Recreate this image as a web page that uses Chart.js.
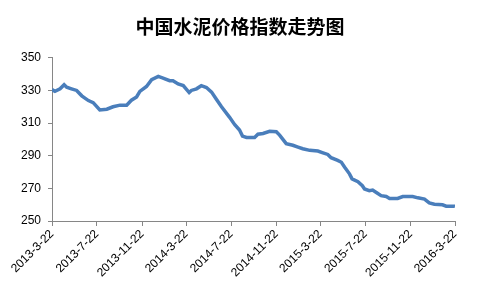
<!DOCTYPE html>
<html>
<head>
<meta charset="utf-8">
<script src="https://cdn.jsdelivr.net/npm/chart.js@4"></script>
<style>
html,body{margin:0;padding:0;background:#fff;}
#wrap{width:480px;height:288px;}
</style>
</head>
<body>
<div id="wrap"><canvas id="c"></canvas></div>
<script>
const title = '中国水泥价格指数走势图';
const startDate = '2013-03-22';
const tickDates = ['2013-3-22','2013-7-22','2013-11-22','2014-3-22','2014-7-22','2014-11-22','2015-3-22','2015-7-22','2015-11-22','2016-3-22'];
const dates = ['2013-03-22','2013-03-30','2013-04-13','2013-04-24','2013-05-01','2013-05-14','2013-05-28','2013-06-11','2013-06-29','2013-07-12',
 '2013-07-30','2013-08-18','2013-09-04','2013-09-23','2013-10-11','2013-10-24','2013-11-07','2013-11-16','2013-12-04','2013-12-18',
 '2014-01-05','2014-01-18','2014-02-05','2014-02-14','2014-02-28','2014-03-14','2014-03-30','2014-04-05','2014-04-19','2014-05-02',
 '2014-05-16','2014-05-30','2014-06-12','2014-06-26','2014-07-18','2014-08-01','2014-08-14','2014-08-22','2014-09-02','2014-09-24',
 '2014-10-03','2014-10-17','2014-11-04','2014-11-22','2014-12-01','2014-12-19','2015-01-06','2015-01-20','2015-02-02','2015-02-21',
 '2015-03-15','2015-03-29','2015-04-11','2015-04-20','2015-05-08','2015-05-18','2015-05-27','2015-06-09','2015-06-16','2015-07-02',
 '2015-07-14','2015-07-20','2015-08-02','2015-08-11','2015-08-21','2015-09-03','2015-09-17','2015-09-26','2015-10-18','2015-11-01',
 '2015-11-28','2015-12-12','2015-12-30','2016-01-12','2016-01-26','2016-02-17','2016-02-27','2016-03-20','2016-03-22'];
const values = [330.5,329.5,331,333.5,332,331,330,326.7,323.8,322.5,
 318,318.5,320,321,321,324,326,329.4,332.4,336.6,
 338.6,337.6,336,336,334,333,328.7,330,331,332.9,
 331.8,329,324.6,320,313.5,309,305.7,302,301.2,301.2,
 303.2,303.6,305,304.7,302.6,297.4,296.4,295.3,294.3,293.3,
 292.9,291.8,290.8,288.8,287.1,286,283,278.9,275.8,274.1,
 271.6,269.6,268.6,269,267.5,265.5,265,263.8,263.8,265,
 265,264.2,263.4,261.1,260.3,259.9,259.1,259.1,259];
const yMin = 250, yMax = 350, yStep = 20;

function dayOf(s){
  const p = s.split('-').map(Number);
  const a = startDate.split('-').map(Number);
  return Math.round((Date.UTC(p[0],p[1]-1,p[2]) - Date.UTC(a[0],a[1]-1,a[2]))/86400000);
}
const pts = dates.map((d,i)=>({x:dayOf(d), y:values[i]}));
const tickDays = tickDates.map(dayOf);
const labelFor = {};
tickDays.forEach((d,i)=>labelFor[d]=tickDates[i]);

const titleFull = {
  id: 'titleFull',
  afterLayout(chart){
    const t = chart.titleBlock;
    if (t) { t.left = 0; t.right = chart.width; t.width = chart.width; }
  }
};

const axisColor = '#868686';
new Chart(document.getElementById('c'), {
  type: 'line',
  data: { datasets: [{ data: pts, borderColor: '#4A7EBB', borderWidth: 3.5, pointRadius: 0, tension: 0, fill: false }] },
  plugins: [titleFull],
  options: {
    responsive: true, maintainAspectRatio: false, animation: false,
    layout: { padding: { left: 0, right: 25, top: 0, bottom: 0 } },
    plugins: {
      legend: { display: false },
      tooltip: { enabled: false },
      title: { display: true, text: title, color: '#000',
        font: { family: '"Noto Sans CJK SC", sans-serif', size: 19, weight: 'bold' },
        padding: { top: 15, bottom: 20 } }
    },
    scales: {
      x: {
        type: 'linear', min: tickDays[0], max: tickDays[tickDays.length-1],
        afterBuildTicks: s => { s.ticks = tickDays.map(v=>({value:v})); },
        afterFit: s => { s.height = 67; },
        border: { color: axisColor, width: 1 },
        grid: { display: true, drawOnChartArea: false, color: axisColor, tickLength: 5 },
        ticks: { autoSkip: false, maxRotation: 45, minRotation: 45, padding: 1, color: '#000',
          font: { family: '"Liberation Sans", Arial, sans-serif', size: 12 },
          callback: v => labelFor[v] || '' }
      },
      y: {
        min: yMin, max: yMax,
        afterFit: s => { s.width = 52; },
        border: { color: axisColor, width: 1 },
        grid: { display: true, drawOnChartArea: false, color: axisColor, tickLength: 4 },
        ticks: { stepSize: yStep, padding: 7, color: '#000',
          font: { family: '"Liberation Sans", Arial, sans-serif', size: 12 } }
      }
    }
  }
});
</script>
</body>
</html>
